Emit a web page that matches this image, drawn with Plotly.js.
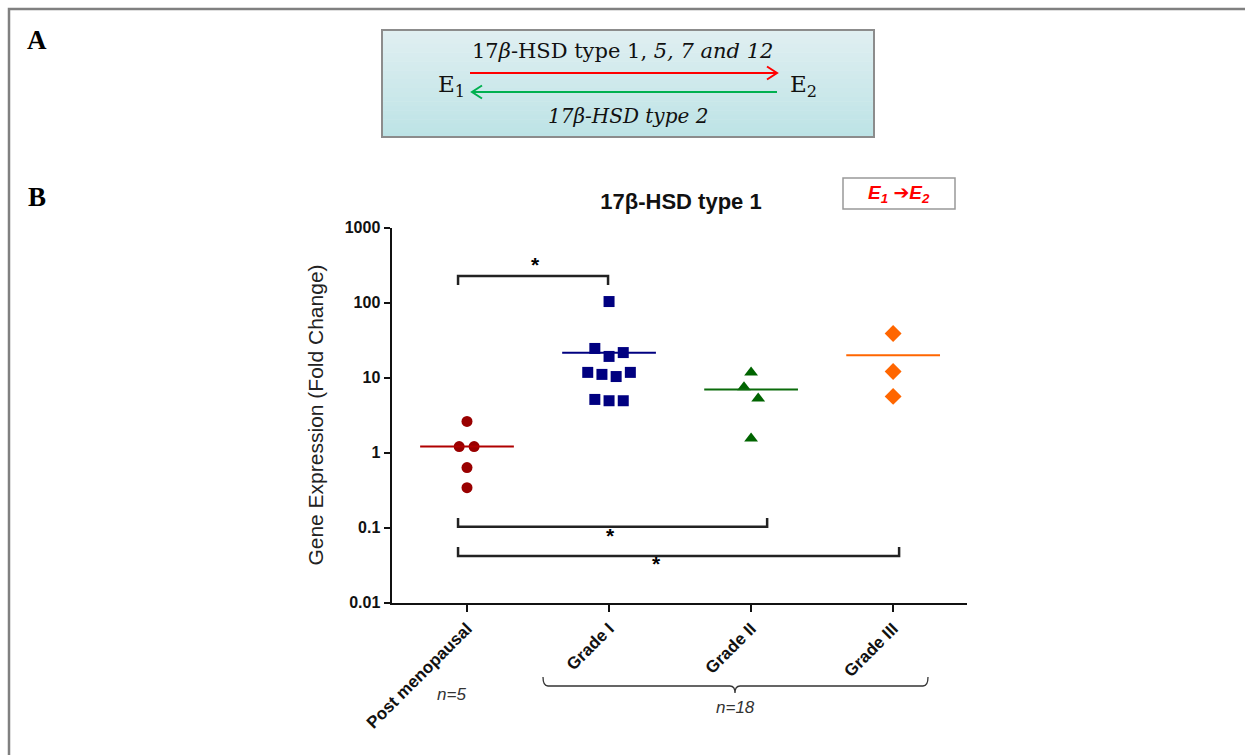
<!DOCTYPE html>
<html>
<head>
<meta charset="utf-8">
<script src="https://cdn.plot.ly/plotly-3.0.1.min.js"></script>
<style>html,body{margin:0;padding:0;background:#fff;}#chart{width:1245px;height:755px;}</style>
</head>
<body>
<div id="chart"></div>
<script>
// ---------------- data ----------------
const groupLabels = ['Post menopausal', 'Grade I', 'Grade II', 'Grade III'];
const groupPositions = [0, 1, 2, 3];
const postValues   = [2.6, 1.2, 1.2, 0.63, 0.34];
const grade1Values = [103, 24.4, 19.1, 21.5, 11.7, 11.0, 10.3, 11.7, 5.1, 4.9, 4.9];
const grade2Values = [11.7, 7.4, 5.25, 1.54];
const grade3Values = [38.6, 12.0, 5.6];
const groupMeans   = [1.2, 21.4, 6.9, 19.8];
const groupCounts  = ['n=5', 'n=18'];
const yTickValues  = [0.01, 0.1, 1, 10, 100, 1000];
const yTickLabels  = ['0.01', '0.1', '1', '10', '100', '1000'];
const sigPairs     = [[0, 1], [0, 2], [0, 3]];
const sigLabels    = ['*', '*', '*'];

// ---------------- layout helpers (pixel -> paper) ----------------
const W = 1245, H = 755;
const px = x => x / W;
const py = y => 1 - y / H;

// scatter point horizontal spreading (category units)
const postSpread   = [0, -0.055, 0.05, 0, 0];
const grade1Spread = [0, -0.1, 0, 0.1, -0.15, -0.05, 0.05, 0.15, -0.1, 0, 0.1];
const grade2Spread = [0, -0.05, 0.05, 0];
const grade3Spread = [0, 0, 0];

const styles = [
  {color: '#990000', line: '#b00000', symbol: 'circle', size: 11},
  {color: '#000080', line: '#000080', symbol: 'square', size: 11},
  {color: '#006400', line: '#0b6b0b', symbol: 'triangle-up', size: 12},
  {color: '#ff6600', line: '#ff6600', symbol: 'diamond', size: 13}
];
const groupValues = [postValues, grade1Values, grade2Values, grade3Values];
const groupSpread = [postSpread, grade1Spread, grade2Spread, grade3Spread];

const traces = [];
groupValues.forEach((vals, g) => {
  traces.push({
    type: 'scatter', mode: 'markers',
    x: vals.map((v, i) => groupPositions[g] + groupSpread[g][i]),
    y: vals,
    marker: {color: styles[g].color, symbol: styles[g].symbol, size: styles[g].size},
    name: groupLabels[g], showlegend: false, hoverinfo: 'x+y'
  });
  traces.push({
    type: 'scatter', mode: 'lines',
    x: [groupPositions[g] - 0.33, groupPositions[g] + 0.33],
    y: [groupMeans[g], groupMeans[g]],
    line: {color: styles[g].line, width: 2},
    showlegend: false, hoverinfo: 'skip'
  });
});

// significance brackets geometry
const bracketGeom = [
  {x0: -0.063, x1: 0.993, y: 225,    tip: 171,   sx: 0.479, sy: 300},
  {x0: -0.063, x1: 2.113, y: 0.102,  tip: 0.134, sx: 1.007, sy: 0.073},
  {x0: -0.063, x1: 3.042, y: 0.0417, tip: 0.055, sx: 1.331, sy: 0.031}
];
sigPairs.forEach((p, k) => {
  const b = bracketGeom[k];
  traces.push({
    type: 'scatter', mode: 'lines',
    x: [b.x0, b.x0, b.x1, b.x1], y: [b.tip, b.y, b.y, b.tip],
    line: {color: '#222', width: 2.5}, showlegend: false, hoverinfo: 'skip'
  });
  traces.push({
    type: 'scatter', mode: 'text',
    x: [b.sx], y: [b.sy], text: ['<b>' + sigLabels[k] + '</b>'],
    textfont: {family: 'Liberation Sans, Arial', size: 21, color: '#000'},
    textposition: 'middle center', showlegend: false, hoverinfo: 'skip'
  });
});

// ---------------- decorations ----------------
const shapes = [];
shapes.push({type: 'path', xref: 'paper', yref: 'paper',
  path: `M${px(9)},${py(755)} L${px(9)},${py(9)} L${px(1245)},${py(9)}`,
  line: {color: '#808080', width: 2.5}});
const boxX0 = 382, boxX1 = 874, boxY0 = 30, boxY1 = 137;
const strips = 24;
const c0 = [224, 239, 241], c1 = [189, 227, 230];
for (let i = 0; i < strips; i++) {
  const t = i / (strips - 1);
  const c = c0.map((v, j) => Math.round(v + (c1[j] - v) * t));
  shapes.push({type: 'rect', xref: 'paper', yref: 'paper',
    x0: px(boxX0), x1: px(boxX1),
    y0: py(boxY0 + (boxY1 - boxY0) * i / strips), y1: py(boxY0 + (boxY1 - boxY0) * (i + 1) / strips + 0.5),
    fillcolor: `rgb(${c[0]},${c[1]},${c[2]})`, line: {width: 0}, layer: 'below'});
}
shapes.push({type: 'rect', xref: 'paper', yref: 'paper',
  x0: px(boxX0), x1: px(boxX1), y0: py(boxY0), y1: py(boxY1),
  line: {color: '#8c8c8c', width: 2}, fillcolor: 'rgba(0,0,0,0)'});
shapes.push({type: 'path', xref: 'paper', yref: 'paper',
  path: `M${px(470)},${py(73)} L${px(777)},${py(73)} M${px(767)},${py(66.5)} L${px(777)},${py(73)} L${px(767)},${py(79.5)}`,
  line: {color: '#ff0000', width: 2}});
shapes.push({type: 'path', xref: 'paper', yref: 'paper',
  path: `M${px(777)},${py(92)} L${px(472)},${py(92)} M${px(482)},${py(85.5)} L${px(472)},${py(92)} L${px(482)},${py(98.5)}`,
  line: {color: '#00b050', width: 2}});
shapes.push({type: 'rect', xref: 'paper', yref: 'paper',
  x0: px(843), x1: px(955), y0: py(178), y1: py(209),
  line: {color: '#999999', width: 1.5}, fillcolor: '#ffffff'});
shapes.push({type: 'path', xref: 'paper', yref: 'paper',
  path: `M${px(543)},${py(677)} Q${px(543)},${py(686)} ${px(548)},${py(686)} L${px(730)},${py(686)} Q${px(735)},${py(686)} ${px(735)},${py(693)} Q${px(735)},${py(686)} ${px(740)},${py(686)} L${px(923)},${py(686)} Q${px(928)},${py(686)} ${px(928)},${py(677)}`,
  line: {color: '#333333', width: 1.3}});

const serif = 'DejaVu Serif, Liberation Serif, serif';
const sans = 'Liberation Sans, Arial, sans-serif';
const annotations = [
  {text: '<b>A</b>', x: px(37), y: py(40), font: {family: 'Liberation Serif, serif', size: 27, color: '#000'}},
  {text: '<b>B</b>', x: px(37), y: py(197), font: {family: 'Liberation Serif, serif', size: 27, color: '#000'}},
  {text: '17<i>β</i>-HSD type 1, <i>5, 7 and 12</i>', x: px(622), y: py(51), font: {family: serif, size: 21, color: '#111'}},
  {text: '<i>17β-HSD type 2</i>', x: px(628), y: py(116), font: {family: serif, size: 20, color: '#111'}},
  {text: 'E<sub>1</sub>', x: px(452), y: py(86), font: {family: serif, size: 23, color: '#111'}},
  {text: 'E<sub>2</sub>', x: px(803), y: py(86), font: {family: serif, size: 23, color: '#111'}},
  {text: '<b><i>E<sub>1</sub> </i></b><span style="font-family:DejaVu Sans">➔</span><b><i>E<sub>2</sub></i></b>', x: px(899), y: py(193), font: {family: sans, size: 19, color: '#ff0000'}},
  {text: '<i>' + groupCounts[0] + '</i>', x: px(451), y: py(694), font: {family: sans, size: 17, color: '#333'}},
  {text: '<i>' + groupCounts[1] + '</i>', x: px(735), y: py(707), font: {family: sans, size: 17, color: '#333'}}
].map(a => Object.assign({xref: 'paper', yref: 'paper', showarrow: false, xanchor: 'center', yanchor: 'middle'}, a));

const layout = {
  width: W, height: H,
  margin: {l: 0, r: 0, t: 0, b: 0},
  paper_bgcolor: '#ffffff', plot_bgcolor: 'rgba(0,0,0,0)',
  title: {text: '<b>17β-HSD type 1</b>', x: px(681), y: py(201), xanchor: 'center', yanchor: 'middle',
    font: {family: sans, size: 22, color: '#111'}},
  xaxis: {
    domain: [px(392), px(967)], range: [-0.528, 3.52],
    tickvals: groupPositions, ticktext: groupLabels, tickangle: -45,
    showline: true, linecolor: '#111', linewidth: 2.5, ticks: 'outside', ticklen: 7, tickwidth: 2, tickcolor: '#111',
    showgrid: false, zeroline: false,
    tickfont: {family: sans, size: 17, color: '#111', weight: 'bold'}
  },
  yaxis: {
    type: 'log', domain: [py(602.5), py(227.5)], range: [-2, 3],
    tickvals: yTickValues, ticktext: yTickLabels,
    showline: true, linecolor: '#111', linewidth: 2.5, ticks: 'outside', ticklen: 6, tickwidth: 2, tickcolor: '#111',
    showgrid: false, zeroline: false,
    tickfont: {family: sans, size: 16, color: '#111', weight: 'bold'},
    title: {text: 'Gene Expression (Fold Change)', standoff: 16, font: {family: sans, size: 21, color: '#222'}}
  },
  shapes: shapes,
  annotations: annotations
};

Plotly.newPlot('chart', traces, layout, {displayModeBar: false, staticPlot: true});
</script>
</body>
</html>
